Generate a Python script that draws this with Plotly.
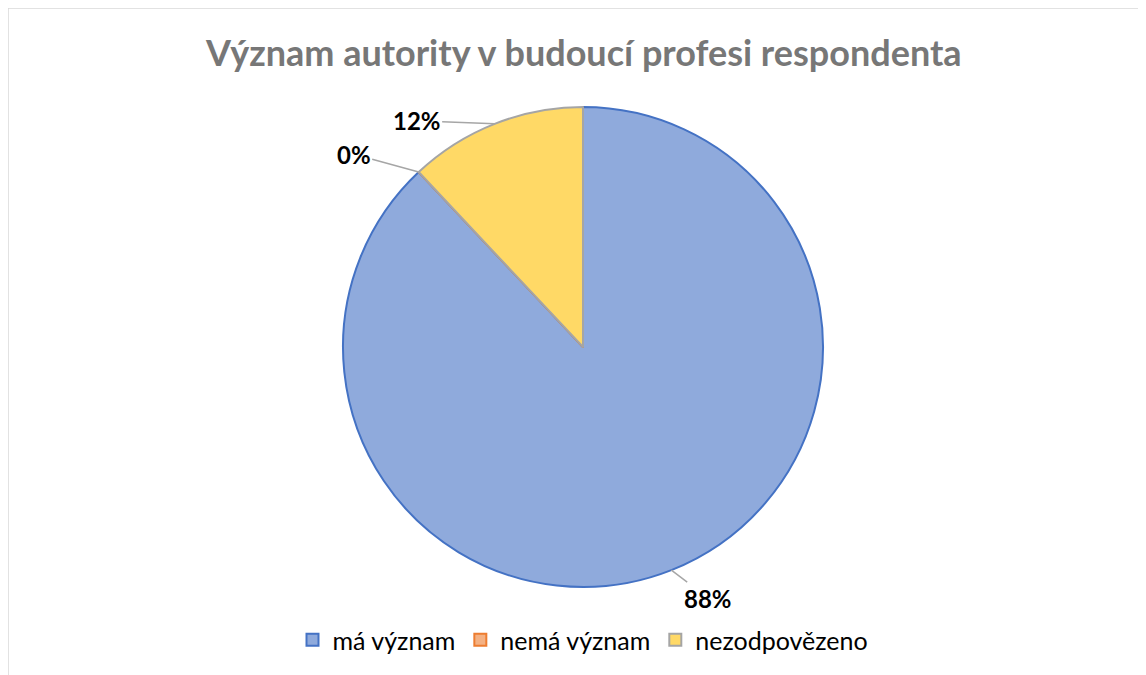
import math
import plotly.graph_objects as go

labels = ["má význam", "nemá význam", "nezodpovězeno"]
values = [88, 0, 12]
pct_text = ["88%", "0%", "12%"]

fill_colors = ["#8FAADC", "#F4B183", "#FFD966"]
line_colors = ["#4472C4", "#ED7D31", "#A5A5A5"]

W, H = 1146, 675
OFF = 8  # page body margin
cx_px, cy_px, r_px = 583 - OFF, 347 - OFF, 240

dom_x = [(cx_px - r_px) / W, (cx_px + r_px) / W]
dom_y = [1 - (cy_px + r_px) / H, 1 - (cy_px - r_px) / H]

fig = go.Figure()
fig.add_trace(go.Pie(
    labels=labels,
    values=values,
    sort=False,
    direction="clockwise",
    rotation=0,
    textinfo="none",
    hoverinfo="label+percent",
    marker=dict(colors=fill_colors, line=dict(color=line_colors, width=2)),
    domain=dict(x=dom_x, y=dom_y),
    showlegend=True,
))

# label offsets (pixels) for data labels, Excel "best fit" style
offsets = [(37, 28), (-65, -18), (-78, -3)]

total = sum(values)
cum = 0
annotations = []
for v, t, (ax, ay) in zip(values, pct_text, offsets):
    mid = (cum + v / 2) / total * 2 * math.pi
    cum += v
    px = cx_px + r_px * math.sin(mid)
    py = cy_px - r_px * math.cos(mid)
    annotations.append(dict(
        x=px / W, y=1 - py / H, xref="paper", yref="paper",
        text="<b>%s</b>" % t, showarrow=True, arrowhead=0, arrowwidth=1.5,
        arrowcolor="#A6A6A6", ax=ax, ay=ay,
        font=dict(family="Lato, Open Sans, sans-serif", size=24, color="#000000"),
    ))

annotations.append(dict(
    x=cx_px / W, y=1 - (52 - OFF) / H, xref="paper", yref="paper",
    text="<b>Význam autority v budoucí profesi respondenta</b>", showarrow=False,
    font=dict(family="Lato, Open Sans, sans-serif", size=36, color="#777777"),
    xanchor="center", yanchor="middle",
))

fig.update_layout(
    width=W, height=H,
    margin=dict(l=0, r=0, t=0, b=0),
    paper_bgcolor="white",
    plot_bgcolor="white",
    annotations=annotations,
    legend=dict(
        orientation="h", x=cx_px / W, xanchor="center", y=1 - (640 - OFF) / H, yanchor="middle",
        font=dict(family="Lato, Open Sans, sans-serif", size=25, color="#000000"),
        itemsizing="constant", traceorder="normal",
    ),
    shapes=[dict(type="rect", xref="paper", yref="paper",
                 x0=0, x1=1.01, y0=-0.01, y1=1,
                 line=dict(color="#D9D9D9", width=1.5))],
)

fig.write_html("out.html")
